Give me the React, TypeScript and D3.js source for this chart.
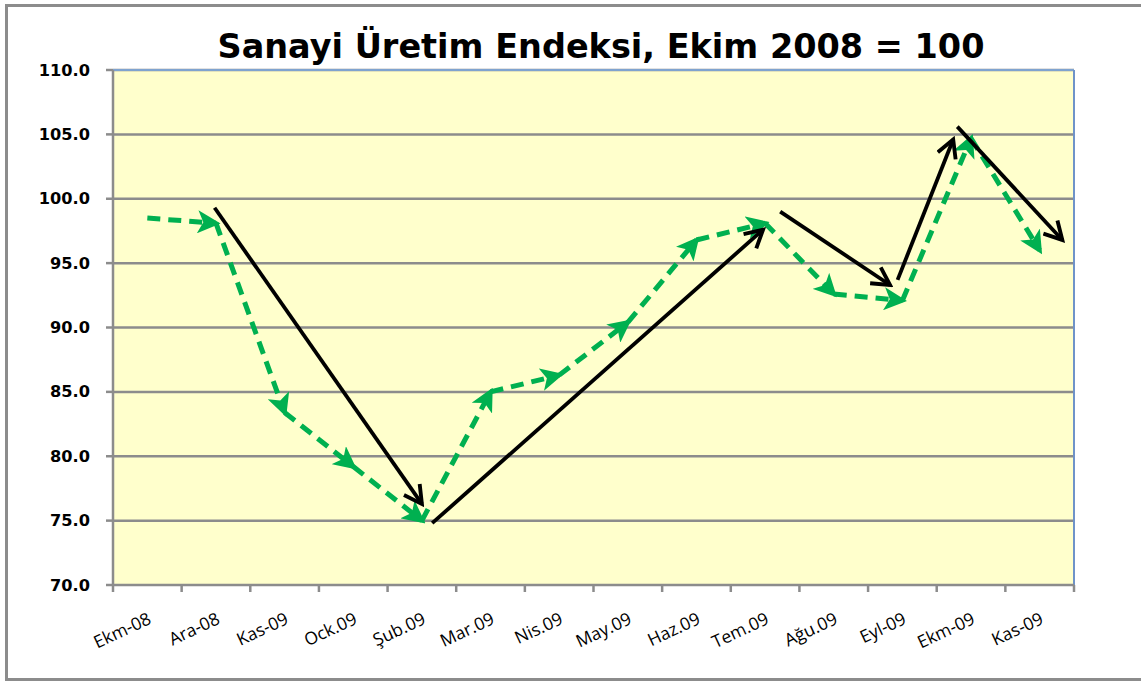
import React, { useEffect, useRef } from "react";
import * as d3 from "d3";

const categories = ["Ekm-08","Ara-08","Kas-09","Ock.09","Şub.09","Mar.09","Nis.09","May.09","Haz.09","Tem.09","Ağu.09","Eyl-09","Ekm-09","Kas-09"];
const values = [98.5, 98.1, 83.4, 79.2, 75.0, 85.0, 86.3, 90.4, 96.8, 98.1, 92.6, 92.1, 104.7, 96.0];
const yTicks = [70, 75, 80, 85, 90, 95, 100, 105, 110];
// annotation arrows: [startIndex, startValue, endIndex, endValue]
const trendArrows: [number, number, number, number][] = [
  [0.98, 99.3, 4.0, 76.3],
  [4.15, 74.8, 8.97, 97.6],
  [9.22, 99.0, 10.82, 93.3],
  [10.93, 93.7, 11.74, 104.6],
  [11.8, 105.6, 13.33, 96.8],
];
const title = "Sanayi Üretim Endeksi, Ekim 2008 = 100";

export default function App() {
  const ref = useRef<SVGSVGElement>(null);
  useEffect(() => {
    const svg = d3.select(ref.current);
    svg.selectAll("*").remove();
    const W = 1141, H = 682;
    const L = 113, R = 1074, T = 70, B = 585;
    const idx = categories.map((_, i) => i);
    const band = d3.scaleBand<number>().domain(idx).range([L, R]);
    const x = (i: number) => (band(0) as number) + band.bandwidth() / 2 + i * band.step();
    const y = d3.scaleLinear().domain([70, 110]).range([B, T]);

    const defs = svg.append("defs");
    defs.append("marker").attr("id", "gHead").attr("viewBox", "0 0 10 10").attr("refX", 8).attr("refY", 5)
      .attr("markerWidth", 4.6).attr("markerHeight", 4.6).attr("orient", "auto").attr("markerUnits", "strokeWidth")
      .append("path").attr("d", "M0,0 L10,5 L0,10 L2.5,5 Z").attr("fill", "#00b050");
    defs.append("marker").attr("id", "bHead").attr("viewBox", "0 0 10 10").attr("refX", 8.5).attr("refY", 5)
      .attr("markerWidth", 6).attr("markerHeight", 6).attr("orient", "auto").attr("markerUnits", "strokeWidth")
      .append("path").attr("d", "M0.8,0.8 L8.5,5 L0.8,9.2").attr("fill", "none").attr("stroke", "#000")
      .attr("stroke-width", 1.7).attr("stroke-linejoin", "miter");

    svg.append("rect").attr("x", 0).attr("y", 0).attr("width", W).attr("height", H).attr("fill", "#fff");
    svg.append("rect").attr("x", 6.5).attr("y", 5.5).attr("width", W + 10).attr("height", 674).attr("fill", "#fff")
      .attr("stroke", "#8c8c8c").attr("stroke-width", 3);

    svg.append("text").attr("x", 601).attr("y", 58).attr("text-anchor", "middle")
      .attr("font-family", "DejaVu Sans").attr("font-weight", "bold").attr("font-size", 33.5)
      .attr("fill", "#000").text(title);

    svg.append("rect").attr("x", L).attr("y", T).attr("width", R - L).attr("height", B - T).attr("fill", "#ffffcc");

    // gridlines
    svg.append("g").selectAll("line").data(yTicks.slice(1)).join("line")
      .attr("x1", L).attr("x2", R).attr("y1", d => y(d)).attr("y2", d => y(d))
      .attr("stroke", "#8c8c8c").attr("stroke-width", 2.5);

    // plot border top/right blue
    svg.append("line").attr("x1", L).attr("x2", R).attr("y1", T).attr("y2", T).attr("stroke", "#7fa3cf").attr("stroke-width", 2);
    svg.append("line").attr("x1", R).attr("x2", R).attr("y1", T).attr("y2", B).attr("stroke", "#6f93c8").attr("stroke-width", 2);

    // axes
    svg.append("line").attr("x1", L).attr("x2", L).attr("y1", T).attr("y2", B).attr("stroke", "#8c8c8c").attr("stroke-width", 2.5);
    svg.append("line").attr("x1", L).attr("x2", R).attr("y1", B).attr("y2", B).attr("stroke", "#8c8c8c").attr("stroke-width", 2.5);
    svg.append("g").selectAll("line").data(yTicks).join("line")
      .attr("x1", L - 7).attr("x2", L).attr("y1", d => y(d)).attr("y2", d => y(d))
      .attr("stroke", "#8c8c8c").attr("stroke-width", 2.5);
    const xt = idx.map(i => L + i * band.step()).concat([R]);
    svg.append("g").selectAll("line").data(xt).join("line")
      .attr("x1", d => d).attr("x2", d => d).attr("y1", B).attr("y2", B + 7)
      .attr("stroke", "#8c8c8c").attr("stroke-width", 2.5);

    svg.append("g").selectAll("text").data(yTicks).join("text")
      .attr("x", 90).attr("y", d => y(d) + 5.5).attr("text-anchor", "end")
      .attr("font-family", "DejaVu Sans").attr("font-weight", "bold").attr("font-size", 16.2)
      .attr("fill", "#000").text(d => d.toFixed(1));

    svg.append("g").selectAll("text").data(categories).join("text")
      .attr("text-anchor", "end")
      .attr("transform", (_, i) => `translate(${x(i) + 5},${B + 38}) rotate(-25)`)
      .attr("font-family", "Open Sans").attr("font-size", 17.5)
      .attr("fill", "#000").text(d => d);

    // green series: each segment arrow
    const segs = values.slice(1).map((v, i) => [[x(i), y(values[i])], [x(i + 1), y(v)]] as [number, number][]);
    svg.append("g").selectAll("path").data(segs).join("path")
      .attr("d", d => d3.line()(d))
      .attr("fill", "none").attr("stroke", "#00b050").attr("stroke-width", 5)
      .attr("stroke-dasharray", "13,8").attr("marker-end", "url(#gHead)");

    // black trend arrows
    svg.append("g").selectAll("path").data(trendArrows).join("path")
      .attr("d", d => d3.line()([[x(d[0]), y(d[1])], [x(d[2]), y(d[3])]]))
      .attr("fill", "none").attr("stroke", "#000").attr("stroke-width", 3.8)
      .attr("marker-end", "url(#bHead)");
  }, []);
  return <svg ref={ref} width={1141} height={682} style={{ position: "absolute", left: 0, top: 0 }} />;
}
